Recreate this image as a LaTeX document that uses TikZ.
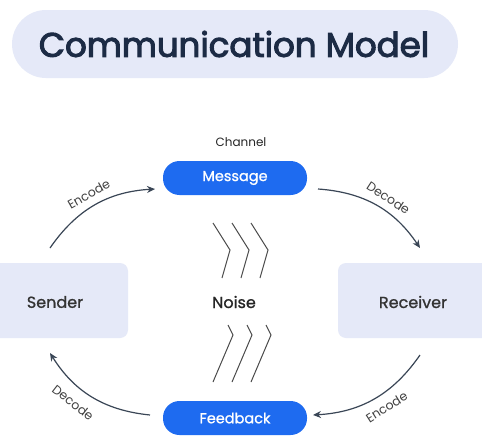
\documentclass[tikz,border=0pt]{standalone}
\usepackage{fontspec}
\setmainfont{Poppins}
\newfontfamily\titlefont{Poppins}[FakeBold=3]
\newfontfamily\midfont{Poppins}[FakeBold=1]
\usetikzlibrary{arrows.meta}
\definecolor{pillblue}{HTML}{1E6BF0}
\definecolor{lav}{HTML}{E5E9F8}
\definecolor{navy}{HTML}{1C2B45}
\definecolor{arr}{HTML}{3A4656}
\definecolor{noisec}{HTML}{4A4A4A}
\tikzset{
  pill/.style={draw=none,fill=pillblue,rounded corners=16.5pt,minimum width=144pt,minimum height=34pt,text=white,font=\fontsize{14.5}{16}\selectfont,inner sep=0pt},
  party/.style={fill=lav,rounded corners=8pt,inner sep=0pt,text=black!80,font=\fontsize{16}{18}\selectfont},
  flow/.style={draw=arr,line width=1.2pt,-{Stealth[length=8pt,width=7pt]},bend left=26},
  lbl/.style={font=\fontsize{12.5}{14}\selectfont,text=black!75,sloped},
  wave/.style={draw=noisec,line width=1pt}
}
\begin{document}
\begin{tikzpicture}[x=1pt,y=-1pt]
\useasboundingbox (0,0) rectangle (482,439);
\clip (0,0) rectangle (482,439);
\fill[white] (0,0) rectangle (482,439);
% title
\node[fill=lav,rounded corners=34pt,minimum width=446pt,minimum height=68pt,inner sep=0pt] (titlebox) at (235,44) {};
\node[text=navy,font=\fontsize{34}{36}\selectfont\titlefont] (title) at (234,44) {Communication Model};
% parties
\node[party,minimum width=148pt,minimum height=75pt] (senderbox) at (54,300.5) {};
\node[party,font=\fontsize{16}{18}\selectfont\midfont,text=black!80] (sender) at (55,302) {Sender};
\node[party,minimum width=160pt,minimum height=75pt] (receiverbox) at (418,300.5) {};
\node[party,font=\fontsize{16}{18}\selectfont\midfont,text=black!80] (receiver) at (413,302) {Receiver};
% pills
\node[pill] (message) at (235,178) {\midfont Message};
\node[pill] (feedback) at (235,418) {\midfont Feedback};
\node[font=\fontsize{12}{14}\selectfont,text=black!85] (channel) at (241,142) {Channel};
\node[font=\fontsize{16}{18}\selectfont\midfont,text=black!85] (noise) at (234,302) {Noise};
% noise chevrons
\foreach \d in {0,19,38}{
  \draw[wave] (213+\d,223) -- (230+\d,250) -- (222+\d,278);
  \draw[wave] (228+\d,325) -- (233+\d,335) -- (213+\d,382);
}
% arrow endpoints
\coordinate (s1) at (50,248);
\coordinate (m1) at (155,189);
\coordinate (m2) at (318,189);
\coordinate (r1) at (420,248);
\coordinate (r2) at (420,355);
\coordinate (f1) at (313,415);
\coordinate (f2) at (150,415);
\coordinate (s2) at (50,353);
\draw[flow] (s1) to node[lbl,pos=0.5,above=4pt] {Encode} (m1);
\draw[flow] (m2) to node[lbl,pos=0.55,above=4pt] {Decode} (r1);
\draw[flow] (r2) to node[lbl,pos=0.45,below=5pt] {Encode} (f1);
\draw[flow] (f2) to node[lbl,pos=0.6,below=7pt] {Decode} (s2);
\end{tikzpicture}
\end{document}
